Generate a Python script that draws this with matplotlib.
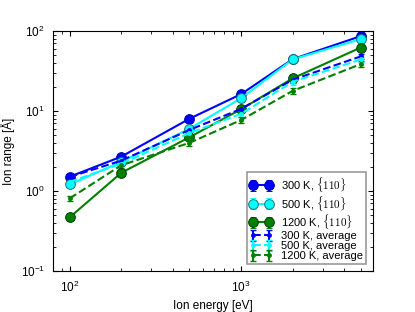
import matplotlib
matplotlib.use('Agg')
from matplotlib import pyplot as plt

plt.rcParams['font.family'] = ['Liberation Sans', 'DejaVu Sans']
plt.rcParams['mathtext.fontset'] = 'cm'

# data
energy = [100, 200, 500, 1000, 2000, 5000]

r300_110 = [1.51, 2.69, 8.0, 16.2, 44.3, 86]
r500_110 = [1.21, 2.32, 6.0, 14.4, 44.0, 79]
r1200_110 = [0.47, 1.69, 4.7, 10.5, 25.5, 62]
r300_avg = [1.5, 2.4, 5.8, 10.6, 24.5, 48]
r500_avg = [1.3, 2.2, 5.3, 9.2, 23.1, 44]
r1200_avg = [0.81, 2.1, 4.0, 7.7, 17.8, 38.5]

e300_110 = [0.12, 0.2, 0.6, 1.2, 3.0, 6.0]
e500_110 = [0.1, 0.18, 0.45, 1.0, 3.0, 5.5]
e1200_110 = [0.05, 0.15, 0.4, 0.8, 2.0, 4.5]
e300_avg = [0.1, 0.15, 0.4, 0.8, 2.0, 4.0]
e500_avg = [0.1, 0.15, 0.4, 0.7, 1.8, 3.5]
e1200_avg = [0.06, 0.15, 0.3, 0.6, 1.5, 3.0]

labels = [r'300 K, $\{110\}$', r'500 K, $\{110\}$', r'1200 K, $\{110\}$',
          '300 K, average', '500 K, average', '1200 K, average']

fig = plt.figure(figsize=(4.15, 3.12), dpi=100)
ax = fig.add_axes([0.128, 0.131, 0.771, 0.77])

solid = [(r300_110, e300_110, 'blue', '#0000aa'),
         (r500_110, e500_110, 'cyan', '#207070'),
         (r1200_110, e1200_110, 'green', '#004000')]
for i, (vals, errs, c, ec) in enumerate(solid):
    ax.errorbar(energy, vals, yerr=errs, color=c, lw=1.5, marker='o', ms=7,
                mfc=c, mec=ec, mew=0.7, capsize=2, label=labels[i])

dashed = [(r300_avg, e300_avg, 'blue'),
          (r500_avg, e500_avg, 'cyan'),
          (r1200_avg, e1200_avg, 'green')]
for i, (vals, errs, c) in enumerate(dashed):
    ax.errorbar(energy, vals, yerr=errs, color=c, lw=1.5, ls='--', marker='.',
                ms=5, capsize=2, label=labels[i + 3])

ax.set_xscale('log')
ax.set_yscale('log')
ax.set_xlim(80, 5900)
ax.set_ylim(0.1, 100)
ax.set_xlabel('Ion energy [eV]', fontsize=8.5)
ax.set_ylabel('Ion range [Å]', fontsize=8.5)
ax.tick_params(which='both', direction='in', top=True, right=True, labelsize=8.5)
ax.tick_params(which='major', pad=6)

leg = ax.legend(loc='lower right', fontsize=8, numpoints=2, fancybox=False,
                handlelength=2.0, labelspacing=0.0, borderpad=0.3,
                handletextpad=0.8, borderaxespad=0.6)
leg.get_frame().set_edgecolor('gray')
leg.get_frame().set_linewidth(1.2)

plt.savefig('out.png', dpi=100)
